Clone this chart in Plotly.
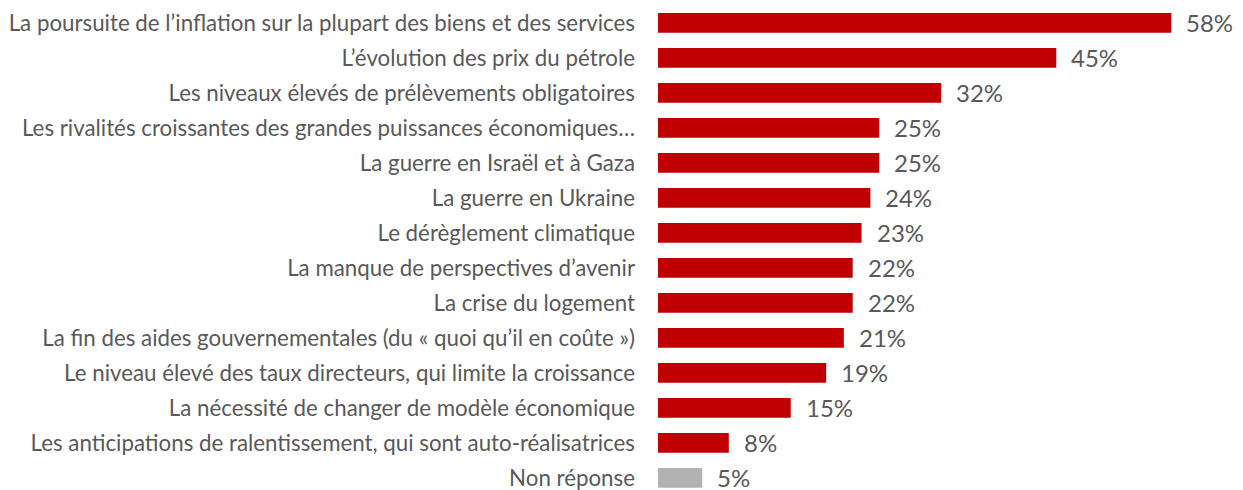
import plotly.graph_objects as go

# Survey answers, top to bottom
categories = [
    "La poursuite de l’inflation sur la plupart des biens et des services",
    "L’évolution des prix du pétrole",
    "Les niveaux élevés de prélèvements obligatoires",
    "Les rivalités croissantes des grandes puissances économiques…",
    "La guerre en Israël et à Gaza",
    "La guerre en Ukraine",
    "Le dérèglement climatique",
    "La manque de perspectives d’avenir",
    "La crise du logement",
    "La fin des aides gouvernementales (du « quoi qu’il en coûte »)",
    "Le niveau élevé des taux directeurs, qui limite la croissance",
    "La nécessité de changer de modèle économique",
    "Les anticipations de ralentissement, qui sont auto-réalisatrices",
    "Non réponse",
]
values = [58, 45, 32, 25, 25, 24, 23, 22, 22, 21, 19, 15, 8, 5]

RED = "#C00000"
GREY = "#B2B2B2"
TEXT = "#595959"
FONT = "Lato"

positions = list(range(len(categories)))
colors = [GREY if c == "Non réponse" else RED for c in categories]

fig = go.Figure(
    go.Bar(
        x=values,
        y=positions,
        orientation="h",
        marker=dict(color=colors, line=dict(width=0)),
        width=0.563,
        hoverinfo="skip",
    )
)

# value labels to the right of each bar
for pos, v in zip(positions, values):
    fig.add_annotation(
        x=v, y=pos, text=f"{v}%", showarrow=False,
        xanchor="left", yanchor="middle", xshift=15,
        borderpad=0, borderwidth=0,
        font=dict(family=FONT, size=24, color=TEXT),
    )

fig.update_layout(
    width=1243, height=490,
    margin=dict(l=658, r=0, t=0, b=0),
    paper_bgcolor="white", plot_bgcolor="white",
    showlegend=False,
    xaxis=dict(range=[0, 66.1], visible=False, fixedrange=True),
    yaxis=dict(
        range=[13.349, -0.651],
        tickmode="array", tickvals=positions, ticktext=categories,
        showgrid=False, zeroline=False, showline=False, ticks="",
        ticklabelstandoff=22,
        ticklabeloverflow="allow",
        tickfont=dict(family=FONT, size=22.3, color=TEXT),
        automargin=False,
    ),
)

fig.write_html("out.html")
